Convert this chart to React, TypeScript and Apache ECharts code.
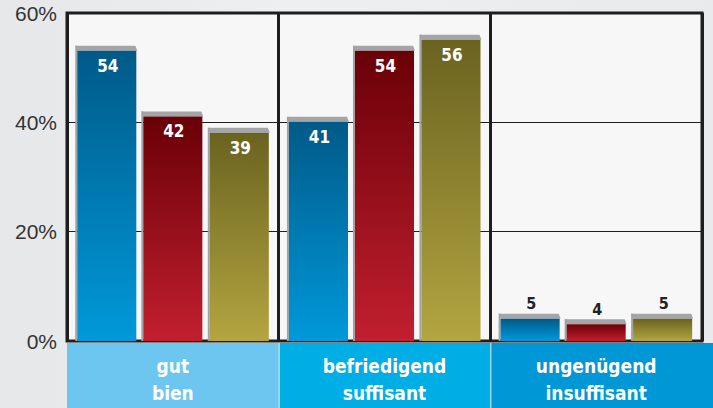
import React, { useEffect, useRef } from "react";
import * as echarts from "echarts";

const categories = ["gut\nbien", "befriedigend\nsuffisant", "ungenügend\ninsuffisant"];
const blueValues = [54, 41, 5];
const redValues = [42, 54, 4];
const oliveValues = [39, 56, 5];
const yTicks = [0, 20, 40, 60];

const bandColors = ["#6dc6ef", "#00aee6", "#0097d7"];
const NARROW = '"Liberation Sans Narrow", "DejaVu Sans Condensed", "Liberation Sans", sans-serif';

const GRID = { left: 67, right: 11, top: 13, bottom: 67 };
const W = 713;
const H = 408;

function makeRender(offset: number, topColor: string, bottomColor: string) {
  return (params: any, api: any) => {
    const idx = api.value(0);
    const val = api.value(1);
    const base = api.coord([idx, 0]);
    const top = api.coord([idx, val]);
    const band = api.size([1, 0])[0];
    const w = band * 0.279;
    const cx = base[0] + offset * band;
    const x0 = cx - w / 2;
    const ty = top[1];
    const cy = ty + 5;
    const by = base[1];
    const small = val < 10;
    return {
      type: "group",
      children: [
        {
          type: "polygon",
          shape: { points: [[x0 - 2, ty], [x0 + w - 1, ty], [x0 + w + 1, cy], [x0, cy]] },
          style: { fill: "#a4a5a9" },
        },
        {
          type: "rect",
          shape: { x: x0 - 2, y: ty, width: 2, height: by - ty },
          style: { fill: "#a0a2a6" },
        },
        {
          type: "rect",
          shape: { x: x0, y: cy, width: w, height: by - cy },
          style: {
            fill: new echarts.graphic.LinearGradient(0, 0, 0, 1, [
              { offset: 0, color: topColor },
              { offset: 1, color: bottomColor },
            ]),
          },
        },
        {
          type: "text",
          x: cx + 1,
          y: small ? ty - 10 : cy + 15,
          style: {
            text: String(val),
            fill: small ? "#222222" : "#ffffff",
            font: `bold ${small ? 16 : 17}px ${NARROW}`,
            align: "center",
            verticalAlign: "middle",
          },
        },
      ],
    };
  };
}

export default function App() {
  const ref = useRef<HTMLDivElement>(null);
  useEffect(() => {
    document.body.style.margin = "0";
    if (!ref.current) return;
    const chart = echarts.init(ref.current, undefined, { renderer: "svg" });
    const plotW = W - GRID.left - GRID.right;
    const bandW = plotW / 3;
    const graphics = bandColors.map((c, i) => {
      const x = GRID.left + i * bandW + (i > 0 ? 1 : 0);
      const right = i === 2 ? W : GRID.left + (i + 1) * bandW;
      return {
        type: "rect",
        z: -1,
        shape: { x, y: H - GRID.bottom + 2, width: right - x, height: GRID.bottom - 2 },
        style: { fill: c },
      };
    });
    chart.setOption({
      animation: false,
      backgroundColor: "transparent",
      grid: {
        ...GRID,
        show: true,
        backgroundColor: "#f7f7f8",
        borderColor: "#1e1e1e",
        borderWidth: 3,
      },
      graphic: graphics,
      xAxis: {
        type: "category",
        data: categories,
        z: 5,
        axisLine: { show: false },
        axisTick: { show: false },
        splitLine: { show: true, lineStyle: { color: "#1e1e1e", width: 3 } },
        axisLabel: {
          color: "#ffffff",
          fontSize: 19,
          fontWeight: "bold",
          fontFamily: NARROW,
          lineHeight: 27,
          margin: 11,
        },
      },
      yAxis: {
        type: "value",
        min: 0,
        max: 60,
        interval: 20,
        axisLine: { show: false },
        axisTick: { show: false },
        splitLine: { show: true, lineStyle: { color: "#1e1e1e", width: 1 } },
        axisLabel: {
          formatter: (v: number) => (yTicks.includes(v) ? `${v}%` : ""),
          color: "#333333",
          fontSize: 21,
          fontFamily: '"Liberation Sans", Arial, sans-serif',
          margin: 10,
        },
      },
      series: [
        {
          type: "custom",
          renderItem: makeRender(-0.312, "#005a88", "#0099da"),
          data: blueValues.map((v, i) => [i, v]),
          encode: { x: 0, y: 1 },
        },
        {
          type: "custom",
          renderItem: makeRender(0, "#6a0007", "#c21f2f"),
          data: redValues.map((v, i) => [i, v]),
          encode: { x: 0, y: 1 },
        },
        {
          type: "custom",
          renderItem: makeRender(0.314, "#6a6320", "#b3a540"),
          data: oliveValues.map((v, i) => [i, v]),
          encode: { x: 0, y: 1 },
        },
      ],
    });
    return () => chart.dispose();
  }, []);
  return (
    <div
      ref={ref}
      style={{
        width: W,
        height: H,
        background: "linear-gradient(90deg, #e6e7e9 0%, #eeeff0 40%, #e9eaec 100%)",
      }}
    />
  );
}
